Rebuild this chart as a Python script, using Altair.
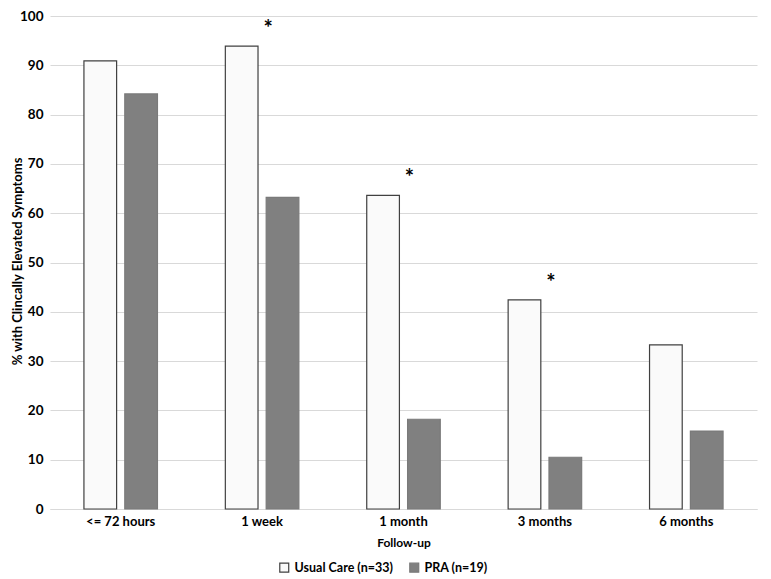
import altair as alt
import pandas as pd

categories = ["<= 72 hours", "1 week", "1 month", "3 months", "6 months"]
usual_care = [90.9, 93.9, 63.6, 42.4, 33.3]
pra = [84.2, 63.2, 18.2, 10.5, 15.8]
groups = ["Usual Care (n=33)", "PRA (n=19)"]
star_categories = ["1 week", "1 month", "3 months"]

rows = []
for c, u, p in zip(categories, usual_care, pra):
    rows.append({"cat": c, "grp": groups[0], "val": u})
    rows.append({"cat": c, "grp": groups[1], "val": p})
df = pd.DataFrame(rows)

star_df = pd.DataFrame({
    "cat": star_categories,
    "val": [usual_care[categories.index(c)] for c in star_categories],
    "txt": ["*"] * len(star_categories),
})

FONT = "Lato"

x = alt.X("cat:N", sort=categories, title="Follow-up",
          scale=alt.Scale(paddingInner=0.48, paddingOuter=0.24),
          axis=alt.Axis(labelAngle=0, labelFontSize=13, labelFontWeight="bold",
                        labelColor="#000000", titleFontSize=12, titleFontWeight="bold",
                        titleColor="#000000", ticks=False, domainColor="#D9D9D9",
                        labelPadding=6, titlePadding=9, grid=False))

bars = alt.Chart(df).mark_bar(strokeWidth=1.2).encode(
    x=x,
    xOffset=alt.XOffset("grp:N", sort=groups, scale=alt.Scale(paddingInner=0.2, paddingOuter=0)),
    y=alt.Y("val:Q", title="% with Clincally Elevated Symptoms",
            scale=alt.Scale(domain=[0, 100]),
            axis=alt.Axis(values=list(range(0, 101, 10)), labelFontSize=13.5,
                          labelFontWeight="bold", labelColor="#000000",
                          titleFontSize=13, titleFontWeight="bold", titleColor="#000000",
                          ticks=False, domain=False, gridColor="#D9D9D9",
                          labelPadding=7, titleX=-26, titleY=245)),
    fill=alt.Fill("grp:N", sort=groups, title=None,
                  scale=alt.Scale(domain=groups, range=["#FAFAFA", "#808080"]),
                  legend=alt.Legend(orient="none", legendX=228, legendY=545,
                                    direction="horizontal",
                                    symbolType="square", symbolSize=80,
                                    labelFontSize=12.5, labelFontWeight="bold",
                                    labelColor="#000000", columnPadding=14,
                                    symbolStrokeWidth=1.2)),
    stroke=alt.Stroke("grp:N", sort=groups, title=None,
                      scale=alt.Scale(domain=groups, range=["#404040", "#7A7A7A"])),
)

stars = alt.Chart(star_df).mark_text(fontSize=22, fontWeight="bold", color="#000000",
                                     dx=6, dy=-17, baseline="middle").encode(
    x=alt.X("cat:N", sort=categories),
    y=alt.Y("val:Q"),
    text="txt:N",
)

chart = alt.layer(bars, stars).properties(
    width=707, height=493,
    autosize=alt.AutoSizeParams(type="none"),
    padding={"left": 42, "top": 8, "right": 6, "bottom": 70},
).configure(font=FONT).configure_view(stroke=None)

chart.save("out.html", embed_options={"renderer": "svg", "actions": False})
